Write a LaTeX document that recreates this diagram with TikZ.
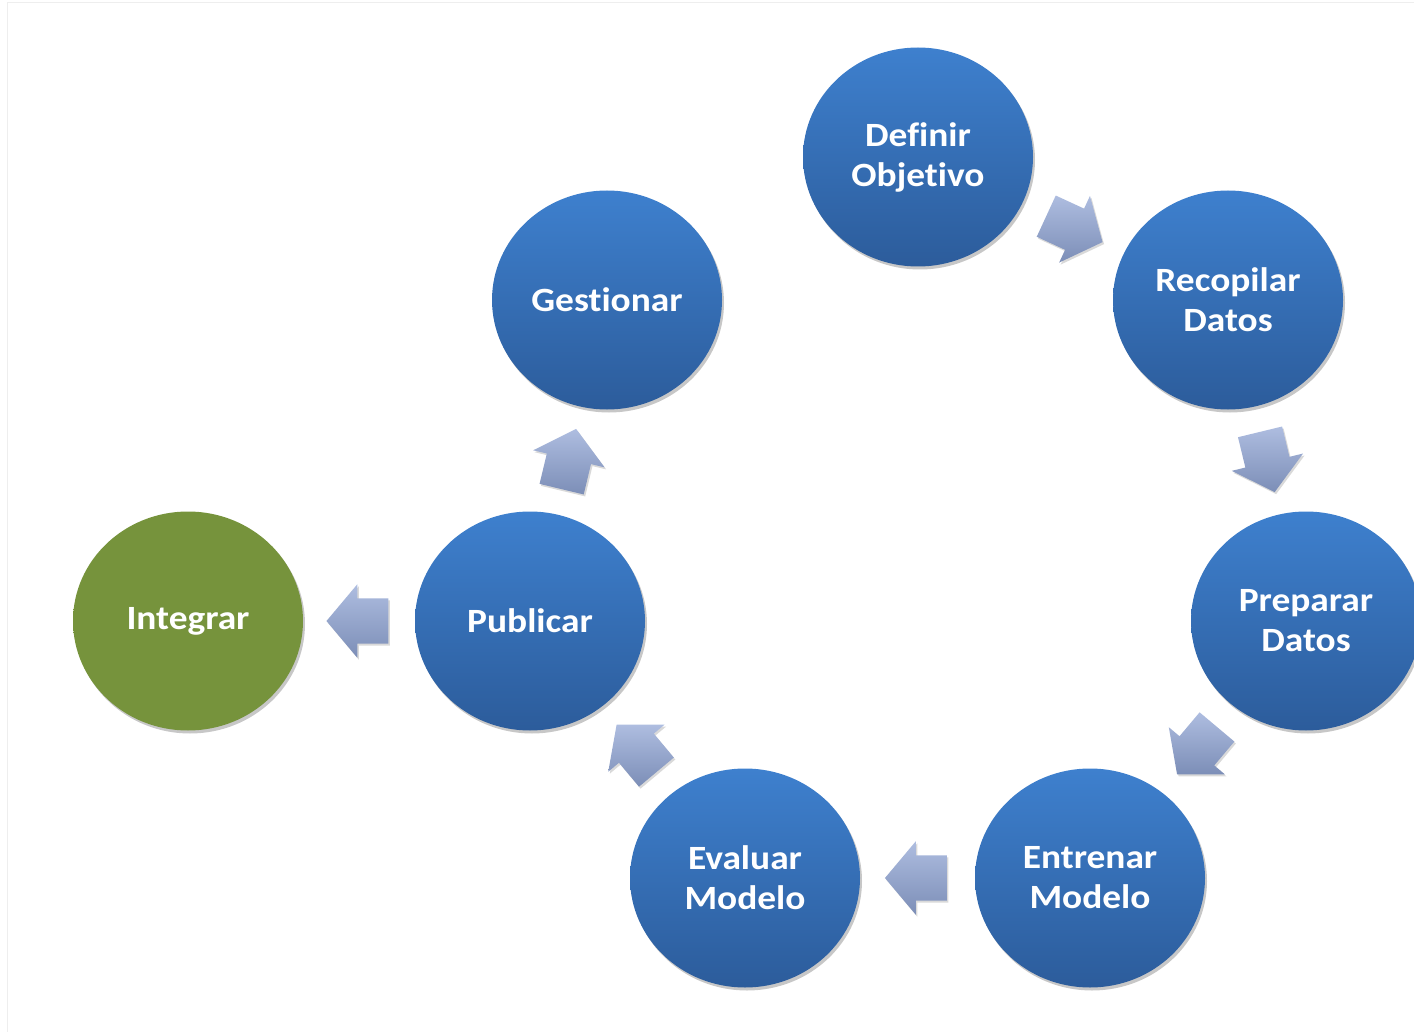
\documentclass[tikz,border=0pt]{standalone}
\usepackage{fontspec}
\setmainfont{Carlito}[FakeStretch=1.1, Ligatures=NoCommon]
\usetikzlibrary{shapes.geometric,shapes.arrows,shadows}
\definecolor{blueTop}{HTML}{3E80CE}
\definecolor{blueBot}{HTML}{2C5C9B}
\definecolor{greenFill}{HTML}{76933C}
\definecolor{arrowLight}{HTML}{AEBDE0}
\definecolor{arrowDark}{HTML}{7C8EB7}
\definecolor{frameGray}{HTML}{EEEEEE}
\begin{document}
\begin{tikzpicture}[x=1pt,y=-1pt,
  stage/.style={ellipse, minimum width=230pt, minimum height=219pt, inner sep=0pt,
    align=center, text=white, font=\bfseries\fontsize{34}{40}\selectfont,
    top color=blueTop, bottom color=blueBot, draw=none,
    drop shadow={shadow xshift=2pt, shadow yshift=-3pt, opacity=0.22, fill=black}},
  endstage/.style={stage, top color=greenFill, bottom color=greenFill},
  flowarrow/.style={single arrow, minimum height=62pt,
    single arrow head extend=14pt, single arrow tip angle=100,
    inner xsep=0pt, inner ysep=22.5pt,
    top color=arrowLight, bottom color=arrowDark, draw=none,
    drop shadow={shadow xshift=1.5pt, shadow yshift=-2pt, opacity=0.15, fill=black},
    midway, sloped, allow upside down, xshift=-8pt}
]
\useasboundingbox (0,0) rectangle (1414,1032);
\draw[frameGray, line width=1pt] (7,3) -- (1414,3) (7,3) -- (7,1032);

\node[stage] (def) at (918,157) {Definir\\Objetivo};
\node[stage] (rec) at (1228,300) {Recopilar\\Datos};
\node[stage] (prep) at (1306,621) {Preparar\\Datos};
\node[stage] (ent) at (1090,878) {Entrenar\\Modelo};
\node[stage] (eval) at (745,878) {Evaluar\\Modelo};
\node[stage] (pub) at (530,621) {Publicar};
\node[stage] (gest) at (607,300) {Gestionar};
\node[endstage] (int) at (188,621) {Integrar};

\path (def) -- node[flowarrow] (a1) {} (rec);
\path (rec) -- node[flowarrow] (a2) {} (prep);
\path (prep) -- node[flowarrow] (a3) {} (ent);
\path (ent) -- node[flowarrow] (a4) {} (eval);
\path (eval) -- node[flowarrow] (a5) {} (pub);
\path (pub) -- node[flowarrow] (a6) {} (gest);
\path (pub) -- node[flowarrow] (a7) {} (int);
\end{tikzpicture}
\end{document}
